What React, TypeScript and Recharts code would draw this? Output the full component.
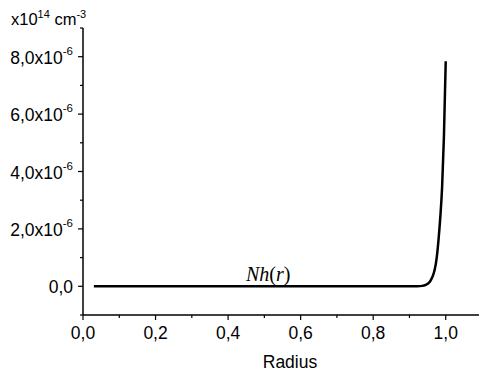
import { LineChart, Line, XAxis, YAxis, Customized } from 'recharts';

// radius values and Nh(r) in units of 1e-6 (x10^14 cm^-3)
const radius = [0.03, 0.1, 0.2, 0.3, 0.4, 0.5, 0.6, 0.7, 0.8, 0.9, 0.92, 0.935, 0.945, 0.955, 0.96, 0.965, 0.97, 0.975, 0.98, 0.985, 0.99, 0.995, 1.0];
const nh = [0, 0, 0, 0, 0, 0, 0, 0, 0, 0, 0.004, 0.015, 0.05, 0.14, 0.24, 0.38, 0.6, 0.98, 1.6, 2.4, 3.45, 5.2, 7.84];

const xTicks = [0, 0.1, 0.2, 0.3, 0.4, 0.5, 0.6, 0.7, 0.8, 0.9, 1.0, 1.1];
const xMajor = [0, 0.2, 0.4, 0.6, 0.8, 1.0];
const yTicks = [-1, 0, 1, 2, 3, 4, 5, 6, 7, 8, 9];
const yMajor = [0, 2, 4, 6, 8];

const data = radius.map((r, i) => ({ r, v: nh[i] }));

const font = '"Liberation Sans", Arial, sans-serif';
const isMajor = (list: number[], v: number) => list.some((m) => Math.abs(m - v) < 1e-9);
const fmt = (v: number) => v.toFixed(1).replace('.', ',');

const XTick = (props: any) => {
  const { x, y, payload } = props;
  const major = isMajor(xMajor, payload.value);
  return (
    <g>
      <line x1={x} x2={x} y1={y} y2={y + (major ? 5 : 3)} stroke="#000" strokeWidth={1.2} />
      {major && (
        <text x={x} y={y + 24} textAnchor="middle" fontFamily={font} fontSize={17.5} fill="#000">
          {fmt(payload.value)}
        </text>
      )}
    </g>
  );
};

const YTick = (props: any) => {
  const { x, y, payload } = props;
  const major = isMajor(yMajor, payload.value);
  return (
    <g>
      <line x1={x} x2={x - (major ? 5 : 3)} y1={y} y2={y} stroke="#000" strokeWidth={1.2} />
      {major && (
        <text x={x - 10} y={y + 7} textAnchor="end" fontFamily={font} fontSize={17.5} fill="#000">
          {payload.value === 0 ? (
            '0,0'
          ) : (
            <>
              {fmt(payload.value) + 'x10'}
              <tspan dy={-9} fontSize={11.5}>-6</tspan>
            </>
          )}
        </text>
      )}
    </g>
  );
};

const Labels = () => (
  <g>
    <text x={11} y={25} fontFamily={font} fontSize={16.5} fill="#000">
      x10<tspan dy={-7} fontSize={11}>14</tspan>
      <tspan dy={7}> cm</tspan>
      <tspan dy={-7} fontSize={11}>-3</tspan>
    </text>
    <text x={246} y={281} fontFamily='"Liberation Serif", "Times New Roman", serif' fontSize={20} fill="#000">
      <tspan fontStyle="italic">Nh</tspan>(<tspan fontStyle="italic">r</tspan>)
    </text>
    <text x={290} y={368} textAnchor="middle" fontFamily={font} fontSize={17.5} fill="#000">
      Radius
    </text>
  </g>
);

export default function App() {
  return (
    <div style={{ position: 'absolute', left: 0, top: 0, width: 479, height: 376, overflow: 'hidden', background: '#fff' }}>
      <LineChart width={482} height={376} data={data} margin={{ top: 28, right: 0, bottom: 0, left: 0 }}>
        <XAxis
          dataKey="r"
          type="number"
          domain={[0, 1.1]}
          ticks={xTicks}
          interval={0}
          height={61}
          tickSize={0}
          tickMargin={0}
          tickLine={false}
          axisLine={{ stroke: '#000', strokeWidth: 1.5 }}
          tick={<XTick />}
        />
        <YAxis
          type="number"
          domain={[-1, 9]}
          ticks={yTicks}
          interval={0}
          width={83}
          tickSize={0}
          tickMargin={0}
          tickLine={false}
          axisLine={{ stroke: '#000', strokeWidth: 1.5 }}
          tick={<YTick />}
        />
        <Line
          dataKey="v"
          type="monotone"
          stroke="#000"
          strokeWidth={2.5}
          dot={false}
          isAnimationActive={false}
        />
        <Customized component={Labels} />
      </LineChart>
    </div>
  );
}
